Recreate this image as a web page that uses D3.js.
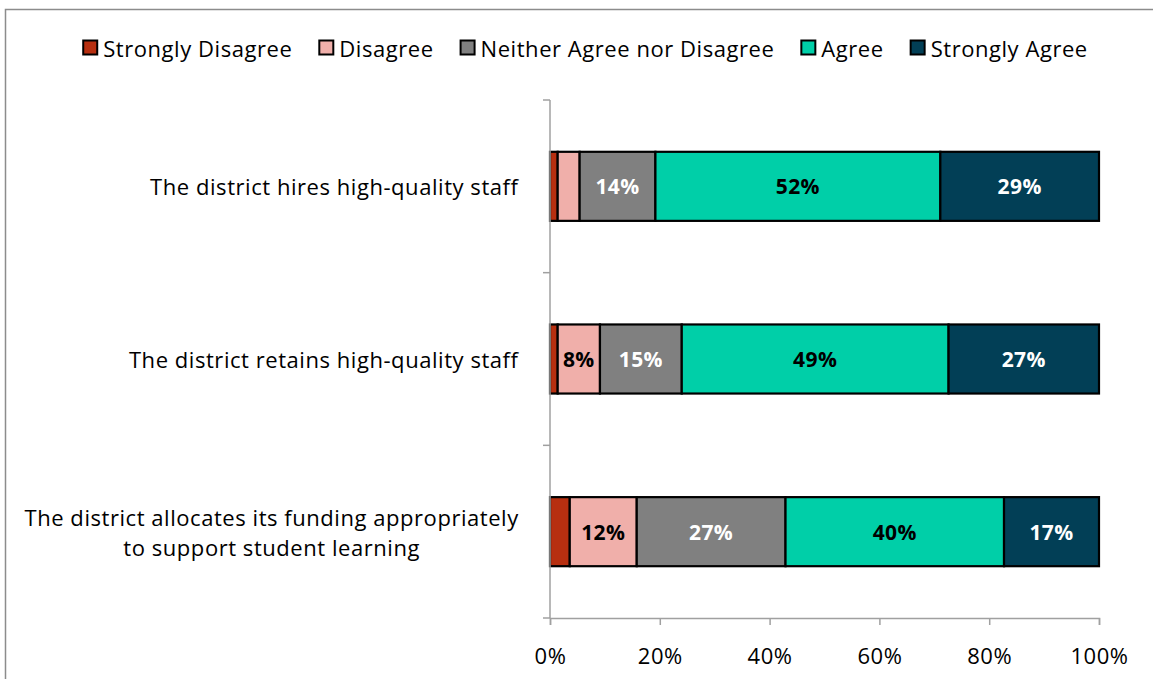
<!DOCTYPE html>
<html>
<head>
<meta charset="utf-8">
<script src="https://cdn.jsdelivr.net/npm/d3@7"></script>
<style>
  html, body { margin: 0; padding: 0; background: #fff; }
  svg { display: block; }
  text { font-family: "Open Sans", "Noto Sans", sans-serif; fill: #000; }
</style>
</head>
<body>
<svg id="chart" width="1153" height="679"></svg>
<script>
// Survey statements (one horizontal stacked bar each)
const categories = [
  "The district hires high-quality staff",
  "The district retains high-quality staff",
  "The district allocates its funding appropriately\nto support student learning"
];

// Response levels, in stacking order
const responses = ["Strongly Disagree", "Disagree", "Neither Agree nor Disagree", "Agree", "Strongly Agree"];

// Share of respondents (%) for each response, per statement
const stronglyDisagree = [1.4, 1.4, 3.6];
const disagree         = [4.0, 7.7, 12.2];
const neither          = [13.8, 14.9, 27.1];
const agree            = [51.9, 48.6, 39.8];
const stronglyAgree    = [28.9, 27.4, 17.3];

const xTicks = [0, 20, 40, 60, 80, 100];

const colors = ["#B72F10", "#F0AFAA", "#808080", "#00CFA8", "#023F56"];
const labelColors = ["#000", "#000", "#fff", "#000", "#fff"];

const series = [stronglyDisagree, disagree, neither, agree, stronglyAgree];
const rows = categories.map((c, i) => {
  const r = { category: c };
  responses.forEach((k, j) => { r[k] = series[j][i]; });
  return r;
});

const FONT = 22;
const LS = "0.55px";

const svg = d3.select("#chart");

// outer frame
svg.append("rect")
  .attr("x", 5.5).attr("y", 9.5)
  .attr("width", 1160).attr("height", 700)
  .attr("fill", "none").attr("stroke", "#8c8c8c").attr("stroke-width", 1.5);

const plot = { left: 550, right: 1099, top: 100, bottom: 618 };

const x = d3.scaleLinear().domain([0, 100]).range([plot.left, plot.right]);
const y = d3.scaleBand().domain(categories).range([plot.top, plot.bottom])
  .paddingInner(0.6).paddingOuter(0.3);

const stack = d3.stack().keys(responses)(rows);

// bars
const layers = svg.append("g").selectAll("g")
  .data(stack).join("g")
  .attr("fill", (d, i) => colors[i]);

layers.selectAll("rect")
  .data(d => d.map(p => ({ p, key: d.key })))
  .join("rect")
  .attr("x", d => x(d.p[0]))
  .attr("y", d => y(d.p.data.category))
  .attr("width", d => x(d.p[1]) - x(d.p[0]))
  .attr("height", y.bandwidth())
  .attr("stroke", "#000")
  .attr("stroke-width", 2.2);

// value labels (shown for segments of 5% or more)
stack.forEach((layer, i) => {
  svg.append("g").selectAll("text")
    .data(layer.filter(p => p[1] - p[0] >= 5))
    .join("text")
    .attr("x", p => (x(p[0]) + x(p[1])) / 2)
    .attr("y", p => y(p.data.category) + y.bandwidth() / 2)
    .attr("text-anchor", "middle")
    .attr("dominant-baseline", "central")
    .attr("font-size", 21)
    .attr("font-weight", "bold")
    .style("letter-spacing", "0.4px")
    .style("fill", labelColors[i])
    .text(p => Math.round(p[1] - p[0]) + "%");
});

// y axis line and category boundary ticks
const axisColor = "#a0a0a0";
svg.append("line")
  .attr("x1", plot.left).attr("x2", plot.left)
  .attr("y1", plot.top).attr("y2", plot.bottom)
  .attr("stroke", axisColor).attr("stroke-width", 1.5);
const step = y.step();
d3.range(categories.length + 1).forEach(i => {
  const yy = plot.top + i * step;
  svg.append("line")
    .attr("x1", plot.left - 7).attr("x2", plot.left)
    .attr("y1", yy).attr("y2", yy)
    .attr("stroke", axisColor).attr("stroke-width", 1.5);
});

// category labels, multi-line ones centred on their widest line
const labelRight = 519;
categories.forEach(c => {
  const lines = c.split("\n");
  const g = svg.append("g");
  const cy = y(c) + y.bandwidth() / 2;
  const lh = 30;
  const t = g.append("text")
    .attr("font-size", FONT)
    .style("letter-spacing", LS)
    .attr("dominant-baseline", "central");
  lines.forEach((ln, k) => {
    t.append("tspan").attr("x", 0)
      .attr("y", cy + (k - (lines.length - 1) / 2) * lh)
      .text(ln);
  });
  const w = t.node().getBBox().width;
  t.attr("text-anchor", "middle").attr("transform", `translate(${labelRight - w / 2},0)`);
});

// x axis
const xAxis = svg.append("g")
  .attr("transform", `translate(0,${plot.bottom})`)
  .call(d3.axisBottom(x).tickValues(xTicks).tickFormat(d => d + "%").tickSize(7).tickPadding(23));
xAxis.select(".domain").attr("stroke", axisColor).attr("stroke-width", 1.5);
xAxis.selectAll(".tick line").attr("stroke", axisColor).attr("stroke-width", 1.5);
xAxis.selectAll(".tick text")
  .attr("font-size", FONT)
  .style("font-family", "'Open Sans', sans-serif")
  .style("letter-spacing", LS)
  .style("fill", "#000");

// legend
const legend = svg.append("g");
let lx = 0;
const gap = 26;
responses.forEach((r, i) => {
  const g = legend.append("g");
  g.append("rect")
    .attr("x", 1).attr("y", -7.5)
    .attr("width", 14).attr("height", 14)
    .attr("fill", colors[i]).attr("stroke", "#000").attr("stroke-width", 2);
  const t = g.append("text")
    .attr("x", 21).attr("y", 0)
    .attr("dominant-baseline", "central")
    .attr("font-size", FONT)
    .style("letter-spacing", LS)
    .text(r);
  const w = 21 + t.node().getComputedTextLength();
  g.attr("transform", `translate(${lx},0)`);
  lx += w + gap;
});
const legendWidth = lx - gap;
legend.attr("transform", `translate(${585 - legendWidth / 2},48)`);
</script>
</body>
</html>
